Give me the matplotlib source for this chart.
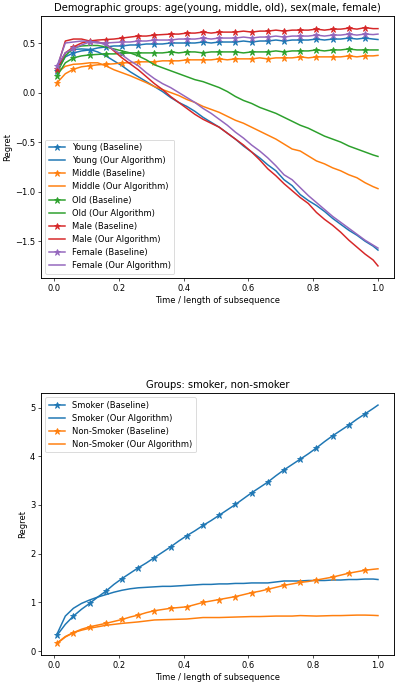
import numpy as np
import matplotlib
matplotlib.use("Agg")
import matplotlib.pyplot as plt

# time grid (fraction of subsequence); stars every second point
t = np.append(np.round(np.arange(0.01, 0.99, 0.025), 3), 1.0)

# demographic groups
young_base = [0.22, 0.36, 0.40, 0.42, 0.43, 0.45, 0.46, 0.47, 0.47, 0.48, 0.48, 0.49, 0.49, 0.49,
              0.50, 0.50, 0.50, 0.50, 0.51, 0.50, 0.51, 0.51, 0.51, 0.52, 0.51, 0.52, 0.52, 0.53,
              0.52, 0.53, 0.53, 0.53, 0.54, 0.53, 0.54, 0.54, 0.55, 0.54, 0.55, 0.54, 0.535]
young_algo = [0.22, 0.40, 0.435, 0.44, 0.435, 0.41, 0.37, 0.32, 0.27, 0.21, 0.16, 0.11, 0.06, 0.01,
              -0.05, -0.10, -0.14, -0.19, -0.25, -0.30, -0.35, -0.41, -0.47, -0.54, -0.60, -0.66,
              -0.73, -0.79, -0.88, -0.94, -1.03, -1.09, -1.14, -1.20, -1.27, -1.33, -1.39, -1.44,
              -1.50, -1.55, -1.59]
middle_base = [0.10, 0.19, 0.235, 0.26, 0.27, 0.28, 0.285, 0.29, 0.30, 0.30, 0.31, 0.31, 0.31, 0.32,
               0.32, 0.32, 0.33, 0.33, 0.33, 0.33, 0.34, 0.33, 0.34, 0.34, 0.34, 0.35, 0.34, 0.35,
               0.35, 0.35, 0.36, 0.35, 0.36, 0.36, 0.36, 0.36, 0.37, 0.36, 0.37, 0.37, 0.375]
middle_algo = [0.20, 0.265, 0.285, 0.29, 0.30, 0.30, 0.27, 0.23, 0.20, 0.17, 0.135, 0.10, 0.06, 0.03,
               0.00, -0.03, -0.07, -0.10, -0.14, -0.17, -0.20, -0.24, -0.28, -0.31, -0.35, -0.39,
               -0.43, -0.47, -0.52, -0.57, -0.59, -0.64, -0.69, -0.72, -0.76, -0.79, -0.83, -0.86,
               -0.91, -0.95, -0.97]
old_base = [0.17, 0.30, 0.35, 0.37, 0.38, 0.385, 0.39, 0.39, 0.395, 0.40, 0.40, 0.40, 0.40, 0.40,
            0.41, 0.40, 0.41, 0.41, 0.40, 0.41, 0.41, 0.41, 0.41, 0.40, 0.41, 0.41, 0.41, 0.42,
            0.41, 0.42, 0.42, 0.42, 0.43, 0.42, 0.43, 0.43, 0.44, 0.43, 0.43, 0.43, 0.43]
old_algo = [0.20, 0.37, 0.45, 0.47, 0.475, 0.475, 0.46, 0.44, 0.42, 0.40, 0.37, 0.33, 0.28, 0.25,
            0.22, 0.19, 0.16, 0.13, 0.11, 0.08, 0.05, 0.01, -0.04, -0.08, -0.11, -0.15, -0.18,
            -0.21, -0.25, -0.29, -0.33, -0.36, -0.40, -0.44, -0.47, -0.50, -0.54, -0.57, -0.60,
            -0.63, -0.645]
male_base = [0.24, 0.40, 0.46, 0.50, 0.52, 0.53, 0.535, 0.54, 0.55, 0.56, 0.57, 0.57, 0.58, 0.585,
             0.59, 0.59, 0.60, 0.60, 0.61, 0.60, 0.61, 0.61, 0.61, 0.62, 0.61, 0.62, 0.62, 0.63,
             0.62, 0.63, 0.63, 0.63, 0.64, 0.63, 0.64, 0.64, 0.65, 0.64, 0.655, 0.645, 0.645]
male_algo = [0.25, 0.52, 0.54, 0.54, 0.52, 0.51, 0.49, 0.42, 0.35, 0.29, 0.23, 0.16, 0.09, 0.03,
             -0.04, -0.10, -0.16, -0.22, -0.27, -0.31, -0.35, -0.41, -0.47, -0.53, -0.60, -0.68,
             -0.77, -0.84, -0.92, -0.99, -1.06, -1.12, -1.21, -1.28, -1.34, -1.41, -1.49, -1.56,
             -1.63, -1.69, -1.75]
female_base = [0.27, 0.40, 0.445, 0.48, 0.51, 0.50, 0.50, 0.505, 0.51, 0.51, 0.52, 0.52, 0.53, 0.53,
               0.53, 0.54, 0.54, 0.54, 0.55, 0.54, 0.55, 0.55, 0.55, 0.56, 0.55, 0.56, 0.56, 0.57,
               0.56, 0.57, 0.57, 0.57, 0.58, 0.57, 0.58, 0.58, 0.59, 0.58, 0.59, 0.585, 0.59]
female_algo = [0.27, 0.50, 0.51, 0.52, 0.515, 0.51, 0.48, 0.43, 0.38, 0.32, 0.27, 0.20, 0.14, 0.09,
               0.05, 0.00, -0.05, -0.10, -0.16, -0.21, -0.27, -0.33, -0.40, -0.46, -0.53, -0.59,
               -0.66, -0.74, -0.83, -0.88, -0.96, -1.04, -1.11, -1.18, -1.25, -1.31, -1.37, -1.43,
               -1.49, -1.54, -1.57]

# smoker groups
smoker_base = [0.33, 0.55, 0.72, 0.86, 0.98, 1.11, 1.23, 1.37, 1.49, 1.60, 1.71, 1.81, 1.92, 2.03,
               2.14, 2.26, 2.37, 2.47, 2.58, 2.68, 2.79, 2.90, 3.01, 3.13, 3.25, 3.36, 3.47, 3.60,
               3.72, 3.83, 3.94, 4.05, 4.17, 4.30, 4.42, 4.53, 4.64, 4.76, 4.87, 4.98, 5.05]
smoker_algo = [0.36, 0.72, 0.88, 0.98, 1.05, 1.11, 1.16, 1.21, 1.25, 1.28, 1.30, 1.31, 1.32, 1.33,
               1.33, 1.34, 1.35, 1.36, 1.37, 1.37, 1.38, 1.38, 1.39, 1.39, 1.40, 1.40, 1.40, 1.42,
               1.44, 1.44, 1.44, 1.45, 1.45, 1.45, 1.46, 1.46, 1.47, 1.47, 1.48, 1.48, 1.47]
nonsmoker_base = [0.16, 0.29, 0.38, 0.45, 0.50, 0.535, 0.57, 0.61, 0.65, 0.70, 0.74, 0.79, 0.83,
                  0.855, 0.88, 0.895, 0.91, 0.955, 1.00, 1.03, 1.06, 1.09, 1.12, 1.16, 1.20, 1.23,
                  1.27, 1.31, 1.35, 1.38, 1.41, 1.43, 1.46, 1.49, 1.52, 1.56, 1.60, 1.63, 1.66,
                  1.68, 1.69]
nonsmoker_algo = [0.17, 0.30, 0.38, 0.43, 0.47, 0.50, 0.53, 0.55, 0.57, 0.585, 0.60, 0.62, 0.64,
                  0.645, 0.65, 0.655, 0.66, 0.675, 0.69, 0.69, 0.69, 0.695, 0.70, 0.705, 0.71, 0.71,
                  0.715, 0.72, 0.72, 0.72, 0.73, 0.725, 0.72, 0.725, 0.73, 0.73, 0.735, 0.74, 0.74,
                  0.735, 0.73]

top_groups = [("Young", young_base, young_algo),
              ("Middle", middle_base, middle_algo),
              ("Old", old_base, old_algo),
              ("Male", male_base, male_algo),
              ("Female", female_base, female_algo)]
bottom_groups = [("Smoker", smoker_base, smoker_algo),
                 ("Non-Smoker", nonsmoker_base, nonsmoker_algo)]

colors = plt.rcParams['axes.prop_cycle'].by_key()['color']
marks = list(range(0, 40, 2))

fig, (ax1, ax2) = plt.subplots(2, 1, figsize=(396 / 60, 684 / 60), dpi=60)
fig.subplots_adjust(left=0.104, right=0.995, top=0.977, bottom=0.042, hspace=0.44)


def draw(ax, groups, title, loc):
    for i, (name, base, algo) in enumerate(groups):
        ax.plot(t, base, color=colors[i], lw=1.8, marker='*', markersize=8, markevery=marks,
                label=name + " (Baseline)")
        ax.plot(t, algo, color=colors[i], lw=1.8, label=name + " (Our Algorithm)")
    for s in ax.spines.values():
        s.set_linewidth(1.1)
    ax.set_title(title)
    ax.set_xlabel("Time / length of subsequence")
    ax.set_ylabel("Regret")
    ax.legend(loc=loc)


draw(ax1, top_groups, "Demographic groups: age(young, middle, old), sex(male, female)", "lower left")
draw(ax2, bottom_groups, "Groups: smoker, non-smoker", "upper left")

fig.savefig("out.png", dpi=60)
